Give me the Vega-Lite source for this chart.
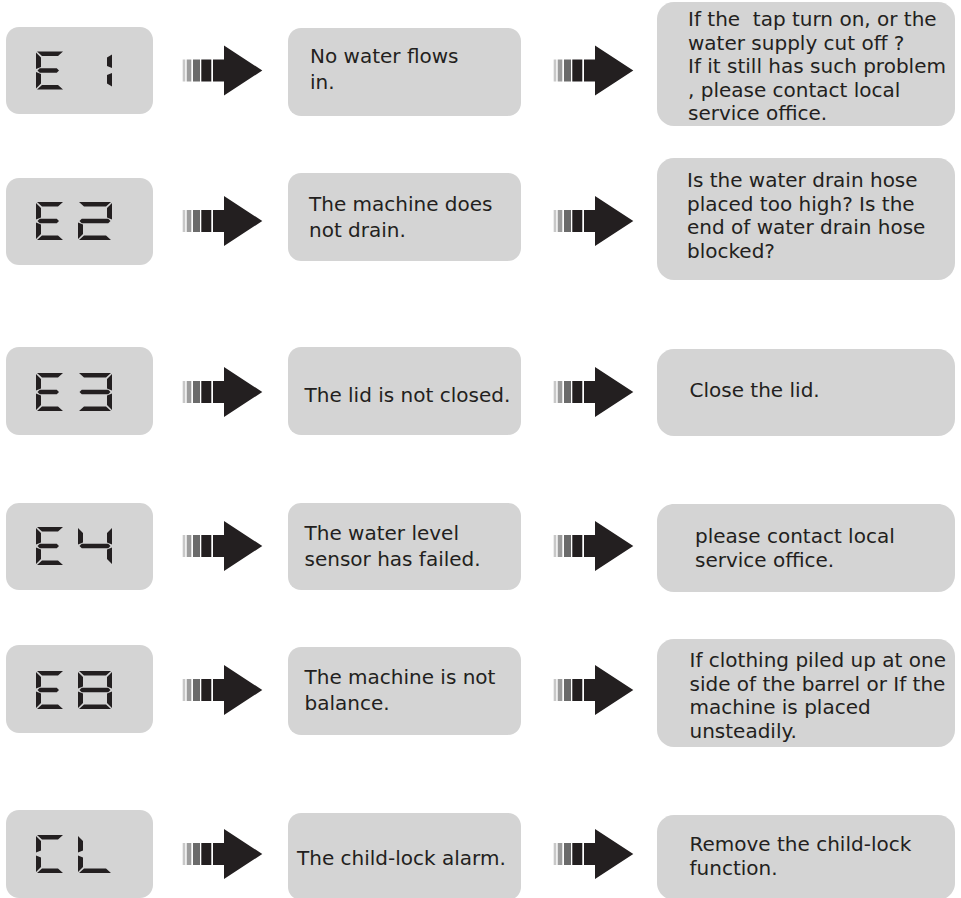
{
  "$schema": "https://vega.github.io/schema/vega-lite/v6.json",
  "width": 961,
  "height": 898,
  "padding": 0,
  "autosize": "none",
  "background": "#ffffff",
  "config": {"view": {"stroke": null}},
  "data": {
    "values": [
      {"code": "E1", "y": 70.5, "codeTop": 27, "codeBot": 114, "probTop": 28, "probBot": 116, "solTop": 2, "solBot": 126, "probX": 310, "probY": 63, "solX": 688, "solY": 26,
       "problem": "No water flows\nin.", "solution": "If the \u00a0tap turn on, or the\nwater supply cut off ?\nIf it still has such problem\n, please contact local\nservice office."},
      {"code": "E2", "y": 221, "codeTop": 178, "codeBot": 265, "probTop": 173, "probBot": 261, "solTop": 158, "solBot": 280, "probX": 309, "probY": 211, "solX": 687, "solY": 187,
       "problem": "The machine does\nnot drain.", "solution": "Is the water drain hose\nplaced too high? Is the\nend of water drain hose\nblocked?"},
      {"code": "E3", "y": 392, "codeTop": 347, "codeBot": 435, "probTop": 347, "probBot": 435, "solTop": 349, "solBot": 436, "probX": 304.5, "probY": 402, "solX": 689.5, "solY": 397,
       "problem": "The lid is not closed.", "solution": "Close the lid."},
      {"code": "E4", "y": 546, "codeTop": 503, "codeBot": 590, "probTop": 503, "probBot": 590, "solTop": 504, "solBot": 592, "probX": 304.5, "probY": 540, "solX": 695, "solY": 543,
       "problem": "The water level\nsensor has failed.", "solution": "please contact local\nservice office."},
      {"code": "E8", "y": 690, "codeTop": 645, "codeBot": 733, "probTop": 647, "probBot": 735, "solTop": 639, "solBot": 747, "probX": 304.5, "probY": 684, "solX": 689.5, "solY": 667,
       "problem": "The machine is not\nbalance.", "solution": "If clothing piled up at one\nside of the barrel or If the\nmachine is placed\nunsteadily."},
      {"code": "CL", "y": 854, "codeTop": 810, "codeBot": 898, "probTop": 813, "probBot": 900, "solTop": 815, "solBot": 900, "probX": 297, "probY": 865, "solX": 689.5, "solY": 851,
       "problem": "The child-lock alarm.", "solution": "Remove the child-lock\nfunction."}
    ]
  },
  "layer": [
    {
      "mark": {"type": "rect", "fill": "#d4d4d4", "cornerRadius": 13},
      "encoding": {
        "x": {"datum": 6, "type": "quantitative", "scale": {"domain": [0, 961], "nice": false, "zero": false}, "axis": null},
        "x2": {"datum": 153},
        "y": {"field": "codeTop", "type": "quantitative", "scale": {"domain": [0, 898], "nice": false, "zero": false, "reverse": true}, "axis": null},
        "y2": {"field": "codeBot"}
      }
    },
    {
      "mark": {"type": "rect", "fill": "#d4d4d4", "cornerRadius": 13},
      "encoding": {
        "x": {"datum": 288, "type": "quantitative", "scale": {"domain": [0, 961], "nice": false, "zero": false}, "axis": null},
        "x2": {"datum": 521},
        "y": {"field": "probTop", "type": "quantitative", "scale": {"domain": [0, 898], "nice": false, "zero": false, "reverse": true}, "axis": null},
        "y2": {"field": "probBot"}
      }
    },
    {
      "mark": {"type": "rect", "fill": "#d4d4d4", "cornerRadius": 17},
      "encoding": {
        "x": {"datum": 657, "type": "quantitative", "scale": {"domain": [0, 961], "nice": false, "zero": false}, "axis": null},
        "x2": {"datum": 955},
        "y": {"field": "solTop", "type": "quantitative", "scale": {"domain": [0, 898], "nice": false, "zero": false, "reverse": true}, "axis": null},
        "y2": {"field": "solBot"}
      }
    },
    {
      "mark": {"type": "point", "filled": true, "size": 4, "opacity": 1, "fill": "#231f20", "strokeWidth": 0},
      "encoding": {
        "x": {"datum": 74, "type": "quantitative", "scale": {"domain": [0, 961], "nice": false, "zero": false}, "axis": null},
        "y": {"field": "y", "type": "quantitative", "scale": {"domain": [0, 898], "nice": false, "zero": false, "reverse": true}, "axis": null},
        "shape": {
          "field": "code", "type": "nominal", "legend": null,
          "scale": {
            "domain": ["E1", "E2", "E3", "E4", "E8", "CL"],
            "range": [
              "M -37 -19 L -11 -19 L -16 -14.5 L -32 -14.5 Z M -32 14.5 L -16 14.5 L -11 19 L -37 19 Z M -36.5 0 L -34.25 -2.25 L -17.25 -2.25 L -15 0 L -17.25 2.25 L -34.25 2.25 Z M -38 -18 L -33 -13 L -33 -3.5 L -38 -1.5 Z M -38 1.5 L -33 3.5 L -33 13 L -38 18 Z M 38 -16 L 38 -2.5 L 33 -4.5 L 33 -13 Z M 38 2.5 L 38 16 L 33 13 L 33 4.5 Z",
              "M -37 -19 L -11 -19 L -16 -14.5 L -32 -14.5 Z M -32 14.5 L -16 14.5 L -11 19 L -37 19 Z M -36.5 0 L -34.25 -2.25 L -17.25 -2.25 L -15 0 L -17.25 2.25 L -34.25 2.25 Z M -38 -18 L -33 -13 L -33 -3.5 L -38 -1.5 Z M -38 1.5 L -33 3.5 L -33 13 L -38 18 Z M 5 -19 L 37 -19 L 32 -14.5 L 10 -14.5 Z M 38 -18 L 38 -1.5 L 33 -3.5 L 33 -13 Z M 5.5 0 L 7.75 -2.25 L 34.25 -2.25 L 36.5 0 L 34.25 2.25 L 7.75 2.25 Z M 4 1.5 L 9 3.5 L 9 13 L 4 18 Z M 10 14.5 L 32 14.5 L 37 19 L 5 19 Z",
              "M -37 -19 L -11 -19 L -16 -14.5 L -32 -14.5 Z M -32 14.5 L -16 14.5 L -11 19 L -37 19 Z M -36.5 0 L -34.25 -2.25 L -17.25 -2.25 L -15 0 L -17.25 2.25 L -34.25 2.25 Z M -38 -18 L -33 -13 L -33 -3.5 L -38 -1.5 Z M -38 1.5 L -33 3.5 L -33 13 L -38 18 Z M 5 -19 L 37 -19 L 32 -14.5 L 10 -14.5 Z M 38 -18 L 38 -1.5 L 33 -3.5 L 33 -13 Z M 5.5 0 L 7.75 -2.25 L 34.25 -2.25 L 36.5 0 L 34.25 2.25 L 7.75 2.25 Z M 38 1.5 L 38 18 L 33 13 L 33 3.5 Z M 10 14.5 L 32 14.5 L 37 19 L 5 19 Z",
              "M -37 -19 L -11 -19 L -16 -14.5 L -32 -14.5 Z M -32 14.5 L -16 14.5 L -11 19 L -37 19 Z M -36.5 0 L -34.25 -2.25 L -17.25 -2.25 L -15 0 L -17.25 2.25 L -34.25 2.25 Z M -38 -18 L -33 -13 L -33 -3.5 L -38 -1.5 Z M -38 1.5 L -33 3.5 L -33 13 L -38 18 Z M 4 -18 L 9 -13 L 9 -3.5 L 4 -1.5 Z M 5.5 0 L 7.75 -2.25 L 34.25 -2.25 L 36.5 0 L 34.25 2.25 L 7.75 2.25 Z M 38 -18 L 38 -1.5 L 33 -3.5 L 33 -13 Z M 38 1.5 L 38 18 L 33 13 L 33 3.5 Z",
              "M -37 -19 L -11 -19 L -16 -14.5 L -32 -14.5 Z M -32 14.5 L -16 14.5 L -11 19 L -37 19 Z M -36.5 0 L -34.25 -2.25 L -17.25 -2.25 L -15 0 L -17.25 2.25 L -34.25 2.25 Z M -38 -18 L -33 -13 L -33 -3.5 L -38 -1.5 Z M -38 1.5 L -33 3.5 L -33 13 L -38 18 Z M 5 -19 L 37 -19 L 32 -14.5 L 10 -14.5 Z M 38 -18 L 38 -1.5 L 33 -3.5 L 33 -13 Z M 38 1.5 L 38 18 L 33 13 L 33 3.5 Z M 10 14.5 L 32 14.5 L 37 19 L 5 19 Z M 4 1.5 L 9 3.5 L 9 13 L 4 18 Z M 4 -18 L 9 -13 L 9 -3.5 L 4 -1.5 Z M 5.5 0 L 7.75 -2.25 L 34.25 -2.25 L 36.5 0 L 34.25 2.25 L 7.75 2.25 Z",
              "M -37 -19 L -11 -19 L -16 -14.5 L -32 -14.5 Z M -32 14.5 L -16 14.5 L -11 19 L -37 19 Z M -38 -18 L -33 -13 L -33 -3.5 L -38 -1.5 Z M -38 1.5 L -33 3.5 L -33 13 L -38 18 Z M 4 -18 L 9 -13 L 9 -3.5 L 4 -1.5 Z M 4 1.5 L 9 3.5 L 9 13 L 4 18 Z M 10 14.5 L 32 14.5 L 37 19 L 5 19 Z"
            ]
          }
        }
      }
    },
    {
      "mark": {"type": "point", "filled": true, "size": 4, "opacity": 1, "fill": "#c8c8c8", "strokeWidth": 0, "shape": "M -40.3 -11 H -37.7 V 11 H -40.3 Z M 330.7 -11 H 333.3 V 11 H 330.7 Z"},
      "encoding": {
        "x": {"datum": 223, "type": "quantitative", "scale": {"domain": [0, 961], "nice": false, "zero": false}, "axis": null},
        "y": {"field": "y", "type": "quantitative", "scale": {"domain": [0, 898], "nice": false, "zero": false, "reverse": true}, "axis": null}
      }
    },
    {
      "mark": {"type": "point", "filled": true, "size": 4, "opacity": 1, "fill": "#9c9c9c", "strokeWidth": 0, "shape": "M -36.3 -11 H -31.7 V 11 H -36.3 Z M 334.7 -11 H 339.3 V 11 H 334.7 Z"},
      "encoding": {
        "x": {"datum": 223, "type": "quantitative", "scale": {"domain": [0, 961], "nice": false, "zero": false}, "axis": null},
        "y": {"field": "y", "type": "quantitative", "scale": {"domain": [0, 898], "nice": false, "zero": false, "reverse": true}, "axis": null}
      }
    },
    {
      "mark": {"type": "point", "filled": true, "size": 4, "opacity": 1, "fill": "#6b6b6b", "strokeWidth": 0, "shape": "M -30 -11 H -23 V 11 H -30 Z M 341 -11 H 348 V 11 H 341 Z"},
      "encoding": {
        "x": {"datum": 223, "type": "quantitative", "scale": {"domain": [0, 961], "nice": false, "zero": false}, "axis": null},
        "y": {"field": "y", "type": "quantitative", "scale": {"domain": [0, 898], "nice": false, "zero": false, "reverse": true}, "axis": null}
      }
    },
    {
      "mark": {"type": "point", "filled": true, "size": 4, "opacity": 1, "fill": "#231f20", "strokeWidth": 0, "shape": "M -21.7 -11 H -11.7 V 11 H -21.7 Z M -10 -11 H 1 V -25 L 39.3 0 L 1 25 V 11 H -10 Z M 349.3 -11 H 359.3 V 11 H 349.3 Z M 361 -11 H 372 V -25 L 410.3 0 L 372 25 V 11 H 361 Z"},
      "encoding": {
        "x": {"datum": 223, "type": "quantitative", "scale": {"domain": [0, 961], "nice": false, "zero": false}, "axis": null},
        "y": {"field": "y", "type": "quantitative", "scale": {"domain": [0, 898], "nice": false, "zero": false, "reverse": true}, "axis": null}
      }
    },
    {
      "mark": {"type": "text", "align": "left", "baseline": "alphabetic", "font": "DejaVu Sans", "fontSize": 20, "lineHeight": 25.5, "lineBreak": "\n", "fill": "#231f20"},
      "encoding": {
        "x": {"field": "probX", "type": "quantitative", "scale": {"domain": [0, 961], "nice": false, "zero": false}, "axis": null},
        "y": {"field": "probY", "type": "quantitative", "scale": {"domain": [0, 898], "nice": false, "zero": false, "reverse": true}, "axis": null},
        "text": {"field": "problem", "type": "nominal"}
      }
    },
    {
      "mark": {"type": "text", "align": "left", "baseline": "alphabetic", "font": "DejaVu Sans", "fontSize": 20, "lineHeight": 23.5, "lineBreak": "\n", "fill": "#231f20"},
      "encoding": {
        "x": {"field": "solX", "type": "quantitative", "scale": {"domain": [0, 961], "nice": false, "zero": false}, "axis": null},
        "y": {"field": "solY", "type": "quantitative", "scale": {"domain": [0, 898], "nice": false, "zero": false, "reverse": true}, "axis": null},
        "text": {"field": "solution", "type": "nominal"}
      }
    }
  ]
}
